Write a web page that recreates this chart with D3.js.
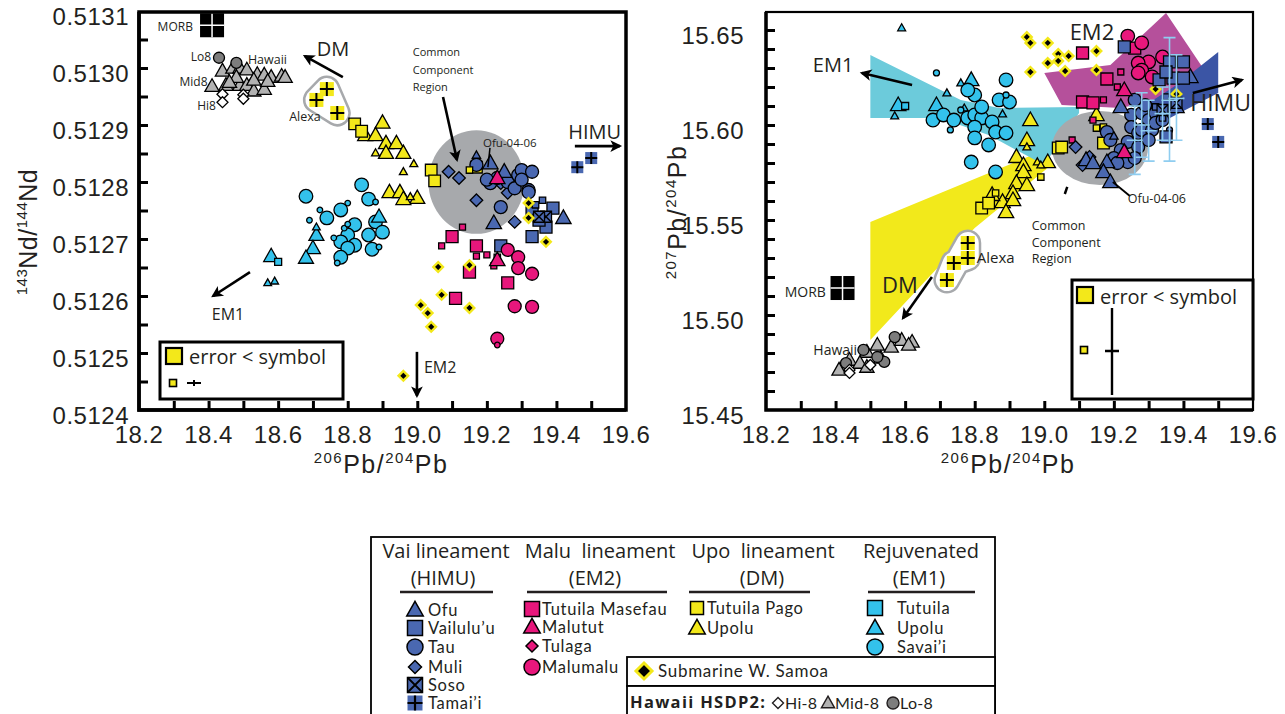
<!DOCTYPE html>
<html>
<head>
<meta charset="utf-8">
<script src="https://cdn.jsdelivr.net/npm/d3@7"></script>
<style>
  body { margin: 0; background: #fff; }
  .tl { font-family: "Liberation Sans", Arial, sans-serif; font-size: 24px; fill: #231f20; letter-spacing: 0.5px; }
  .ann { font-family: "Open Sans", sans-serif; fill: #231f20; }
  .leg { font-family: Lato, "Open Sans", sans-serif; fill: #231f20; letter-spacing: 0.7px; }
</style>
</head>
<body>
<svg id="fig" width="1285" height="714"></svg>
<script>
// ---------- 143Nd/144Nd vs 206Pb/204Pb (left) ----------
var ndHawaiiLo8 = [[18.43,0.513018],[18.48,0.513009]];
var ndHawaiiMid8 = [[18.44,0.512995],[18.47,0.513000],[18.49,0.513000],[18.51,0.512997],[18.54,0.512989],[18.56,0.512988],[18.58,0.512984],[18.61,0.512986],[18.62,0.512984],[18.41,0.512968],[18.45,0.512970],[18.49,0.512970],[18.51,0.512970],[18.53,0.512960],[18.56,0.512963],[18.48,0.512984],[18.46,0.512975],[18.53,0.512979],[18.57,0.512977]];
var ndHawaiiHi8 = [[18.44,0.512954],[18.44,0.512940],[18.50,0.512953],[18.50,0.512946]];
var ndMorb = [[18.41,0.513075]];
var ndAlexa = [[18.71,0.512944],[18.74,0.512963],[18.77,0.512921]];
var ndPago = [[18.82,0.512902],[18.84,0.512889],[19.04,0.512821],[19.05,0.512802],[19.17,0.512826]];
var ndPagoSmall = [[19.15,0.512821]];
var ndUpoluDM = [[18.90,0.512904],[18.85,0.512882],[18.88,0.512882],[18.91,0.512868],[18.94,0.512868],[18.91,0.512851],[18.96,0.512851],[18.92,0.512782],[18.95,0.512782],[19.00,0.512772],[18.96,0.512770]];
var ndUpoluDMSmall = [[18.88,0.512851],[18.99,0.512832],[18.96,0.512818],[18.98,0.512774]];
var ndSavaii = [[18.84,0.512795],[18.68,0.512775],[18.86,0.512770],[18.78,0.512751],[18.74,0.512737],[18.82,0.512725],[18.88,0.512730],[18.90,0.512712],[18.86,0.512707],[18.80,0.512707],[18.82,0.512689],[18.78,0.512695],[18.80,0.512684],[18.87,0.512682],[18.78,0.512668]];
var ndSavaiiSmall = [[18.88,0.512765],[18.80,0.512763],[18.72,0.512751],[18.69,0.512733],[18.79,0.512719],[18.89,0.512686],[18.76,0.512702],[18.80,0.512726],[18.77,0.512658]];
var ndUpoluEM1 = [[18.71,0.512707],[18.70,0.512684],[18.68,0.512667],[18.58,0.512670],[18.89,0.512739]];
var ndUpoluEM1Small = [[18.71,0.512721],[18.57,0.512623],[18.59,0.512626]];
var ndTutuilaEM1Small = [[18.60,0.512660]];
var ndOfu = [[19.21,0.512833],[19.25,0.512818],[19.22,0.512728],[19.42,0.512737]];
var ndOfuSmall = [[19.17,0.512847]];
var ndMuli = [[19.09,0.512818],[19.12,0.512807],[19.17,0.512768],[19.26,0.512781],[19.28,0.512730],[19.24,0.512798]];
var ndTau = [[19.17,0.512830],[19.21,0.512798],[19.23,0.512807],[19.26,0.512800],[19.29,0.512812],[19.30,0.512821],[19.33,0.512818],[19.32,0.512786],[19.28,0.512789],[19.24,0.512756],[19.20,0.512804],[19.30,0.512804],[19.32,0.512782]];
var ndVailulu = [[19.33,0.512746],[19.39,0.512754],[19.37,0.512721],[19.33,0.512704],[19.35,0.512733],[19.24,0.512688]];
var ndVailuluSmall = [[19.36,0.512768],[19.34,0.512760],[19.23,0.512668]];
var ndSoso = [[19.37,0.512739],[19.35,0.512739]];
var ndTamaii = [[19.46,0.512826],[19.50,0.512842]];
var ndMasefau = [[19.10,0.512704],[19.17,0.512688],[19.11,0.512596],[19.26,0.512623],[19.15,0.512642]];
var ndMasefauSmall = [[19.13,0.512721],[19.07,0.512688],[19.17,0.512670],[19.20,0.512672],[19.22,0.512653]];
var ndMalutut = [[19.23,0.512807],[19.23,0.512663]];
var ndMalumalu = [[19.26,0.512681],[19.29,0.512668],[19.29,0.512649],[19.33,0.512639],[19.28,0.512582],[19.33,0.512581],[19.23,0.512525]];
var ndMalumaluSmall = [[19.23,0.512514]];
var ndSubmarine = [[19.06,0.512651],[19.15,0.512654],[19.07,0.512602],[19.01,0.512584],[19.03,0.512570],[19.04,0.512546],[19.15,0.512579],[18.96,0.512460],[19.37,0.512695],[19.32,0.512763],[19.32,0.512737]];
var ndCommon = [19.17, 0.51280, 0.138, 0.000091];   // centre x, centre y, radius x, radius y

// ---------- 207Pb/204Pb vs 206Pb/204Pb (right) ----------
var pbHawaiiMid8 = [[18.41,15.4711],[18.44,15.4763],[18.49,15.4805],[18.52,15.4842],[18.56,15.4832],[18.59,15.4868],[18.62,15.4858],[18.47,15.4747],[18.49,15.4726],[18.53,15.4774],[18.61,15.4842]];
var pbHawaiiLo8 = [[18.43,15.4747],[18.48,15.4816],[18.57,15.4884],[18.54,15.4753],[18.52,15.4779]];
var pbHawaiiHi8 = [[18.44,15.4711],[18.50,15.4737],[18.44,15.4695]];
var pbMorb = [[18.42,15.5142]];
var pbAlexa = [[18.78,15.5379],[18.78,15.5300],[18.74,15.5274],[18.72,15.5184]];
var pbUpoluEM1 = [[18.58,15.6105],[18.69,15.6105],[18.79,15.6237]];
var pbUpoluEM1Small = [[18.59,15.6511],[18.57,15.6047],[18.76,15.6221],[18.72,15.6168],[18.77,15.6089],[18.88,15.6058]];
var pbTutuilaEM1Small = [[18.60,15.6100]];
var pbSavaii = [[18.68,15.6026],[18.71,15.6053],[18.74,15.6026],[18.78,15.6037],[18.80,15.6053],[18.82,15.6037],[18.80,15.5989],[18.82,15.6095],[18.80,15.6158],[18.78,15.6184],[18.85,15.6016],[18.87,15.6132],[18.90,15.6121],[18.89,15.6237],[18.86,15.5963],[18.89,15.5958],[18.84,15.5895],[18.80,15.5932],[18.79,15.5805],[18.86,15.5753]];
var pbSavaiiSmall = [[18.69,15.6274],[18.89,15.6158],[18.73,15.5974],[18.76,15.6079]];
var pbUpoluDM = [[18.96,15.6026],[18.95,15.5921],[18.92,15.5832],[18.94,15.5789],[18.94,15.5753],[18.92,15.5695],[18.95,15.5684],[18.91,15.5642],[18.88,15.5595],[18.91,15.5605],[18.85,15.5632],[18.89,15.5542],[19.01,15.5805],[19.15,15.6053]];
var pbUpoluDMSmall = [[18.95,15.5884],[18.98,15.5805],[18.99,15.5789]];
var pbPago = [[18.82,15.5563],[18.84,15.5589],[19.04,15.5879],[19.05,15.5884],[19.17,15.5905]];
var pbPagoSmall = [[18.99,15.5726],[18.86,15.5642],[19.15,15.5984],[19.17,15.5989]];
var pbSubmarine = [[18.95,15.6463],[18.96,15.6432],[19.01,15.6432],[19.04,15.6374],[19.07,15.6363],[19.04,15.6337],[19.01,15.6326],[18.96,15.6279],[19.06,15.6284],[19.15,15.6389],[19.15,15.6289],[19.32,15.6189],[19.38,15.6163]];
var pbMasefau = [[19.11,15.6379],[19.18,15.6242],[19.26,15.6405],[19.11,15.6121],[19.14,15.6116]];
var pbMasefauSmall = [[19.17,15.6132],[19.22,15.6279],[19.21,15.6200],[19.08,15.5921],[19.14,15.6026]];
var pbMalutut = [[19.23,15.6184],[19.23,15.5858]];
var pbMalumalu = [[19.24,15.6468],[19.28,15.6432],[19.34,15.6358],[19.30,15.6332],[19.27,15.6326],[19.28,15.6289],[19.27,15.6274],[19.31,15.6253]];
var pbOfu = [[19.22,15.6095],[19.42,15.6253],[19.18,15.5805],[19.17,15.5753],[19.19,15.5700],[19.12,15.5816],[19.14,15.5800],[19.38,15.6095]];
var pbOfuSmall = [[19.20,15.5942]];
var pbMuli = [[19.09,15.5884],[19.13,15.5832],[19.11,15.5789]];
var pbTau = [[19.25,15.6053],[19.28,15.6063],[19.30,15.6026],[19.32,15.6063],[19.25,15.5989],[19.27,15.5958],[19.28,15.5974],[19.31,15.5974],[19.24,15.5911],[19.27,15.5884],[19.22,15.5868],[19.20,15.5826],[19.18,15.5963],[19.19,15.5921],[19.32,15.6011],[19.34,15.6026],[19.30,15.5921],[19.24,15.5805],[19.29,15.6105],[19.26,15.6132],[19.21,15.5800],[19.26,15.5826]];
var pbTauSmall = [[19.36,15.5974]];
var pbVailulu = [[19.23,15.6411],[19.36,15.6332],[19.40,15.6332],[19.37,15.6247],[19.40,15.6247],[19.33,15.6237],[19.35,15.5937],[19.35,15.6279]];
var pbVailuluSmall = [[19.34,15.6037],[19.35,15.6147],[19.32,15.6095]];
var pbSoso = [[19.34,15.6079],[19.38,15.6116]];
var pbTamaii = [[19.47,15.6005],[19.50,15.5911]];
// x, y, y low, y high
var pbErrorBars = [[19.36,15.613,15.581,15.646],[19.38,15.614,15.592,15.637],[19.34,15.606,15.592,15.620],[19.28,15.600,15.583,15.617],[19.26,15.592,15.574,15.610],[19.30,15.597,15.581,15.613]];
var pbRegionDM = [[18.50,15.5489],[19.00,15.5868],[19.02,15.5789],[18.80,15.5458],[18.50,15.4868]];
var pbRegionEM1 = [[18.50,15.6368],[18.76,15.6132],[18.87,15.6089],[19.10,15.6095],[19.10,15.6063],[19.00,15.5789],[18.84,15.5947],[18.70,15.6037],[18.50,15.6037]];
var pbRegionEM2 = [[19.00,15.6274],[19.19,15.6316],[19.35,15.6589],[19.46,15.6289],[19.39,15.6158],[19.22,15.6089],[19.05,15.6105]];
var pbRegionHIMU = [[19.26,15.6068],[19.38,15.6211],[19.50,15.6384],[19.50,15.6168],[19.35,15.6026]];
var pbCommon = [19.16, 15.5879, 0.138, 0.0195];

// axis ticks
var xLabels = [18.2,18.4,18.6,18.8,19.0,19.2,19.4,19.6];
var ndLabels = [0.5124,0.5125,0.5126,0.5127,0.5128,0.5129,0.5130,0.5131];
var pbLabels = [15.45,15.50,15.55,15.60,15.65];

var BLUE = "#4a68b1", PINK = "#e8177c", YEL = "#f3e81a", CYAN = "#33c2ec";

var svg = d3.select("#fig");
svg.append("defs").append("marker").attr("id", "arr")
  .attr("viewBox", "0 0 10 10").attr("refX", 8).attr("refY", 5)
  .attr("markerWidth", 5).attr("markerHeight", 4.5).attr("orient", "auto")
  .append("path").attr("d", "M0,0L10,5L0,10L2.5,5Z").attr("fill", "#000");

function sym(shape, r) {
  if (shape == "circle") return d3.symbol(d3.symbolCircle, Math.PI * r * r)();
  if (shape == "triangle") return "M0," + (-r * 1.15) + "L" + (r * 1.1) + "," + (r * 0.8) + "L" + (-r * 1.1) + "," + (r * 0.8) + "Z";
  if (shape == "diamond") return "M0," + (-r) + "L" + r + ",0L0," + r + "L" + (-r) + ",0Z";
  return "M" + (-r) + "," + (-r) + "h" + (2 * r) + "v" + (2 * r) + "h" + (-2 * r) + "Z";
}

function marks(g, data, x, y, shape, r, fill, opt) {
  opt = opt || {};
  var sel = g.append("g").selectAll("g").data(data).join("g")
    .attr("transform", function (d) { return "translate(" + x(d[0]) + "," + y(d[1]) + ")"; });
  sel.append("path").attr("d", sym(shape, r)).attr("fill", fill)
    .attr("stroke", opt.stroke || "#000").attr("stroke-width", opt.sw == null ? 1.3 : opt.sw);
  if (shape == "cross")
    sel.append("path").attr("d", "M" + (-r) + ",0h" + (2 * r) + "M0," + (-r) + "v" + (2 * r)).attr("stroke", "#000").attr("stroke-width", 2);
  if (shape == "xbox")
    sel.append("path").attr("d", "M" + (-r) + "," + (-r) + "L" + r + "," + r + "M" + r + "," + (-r) + "L" + (-r) + "," + r).attr("stroke", "#000").attr("stroke-width", 1.5);
  return sel;
}

function morb(g, data, x, y) {
  var s = g.append("g").selectAll("g").data(data).join("g")
    .attr("transform", function (d) { return "translate(" + x(d[0]) + "," + y(d[1]) + ")"; });
  s.append("rect").attr("x", -12).attr("y", -12).attr("width", 24).attr("height", 24).attr("fill", "#000");
  s.append("path").attr("d", "M-12,0h24M0,-12v24").attr("stroke", "#fff").attr("stroke-width", 1.5);
}

function blob(g, data, x, y) {
  var d = "M" + data.map(function (p) { return x(p[0]) + "," + y(p[1]); }).join("L") + "Z";
  g.append("path").attr("d", d).attr("fill", "#fff").attr("stroke", "#a7a9ac").attr("stroke-width", 27).attr("stroke-linejoin", "round");
  g.append("path").attr("d", d).attr("fill", "#fff").attr("stroke", "#fff").attr("stroke-width", 22).attr("stroke-linejoin", "round");
}

function arrow(g, x, y, a) {
  g.append("line").attr("x1", x(a[0])).attr("y1", y(a[1])).attr("x2", x(a[2])).attr("y2", y(a[3]))
    .attr("stroke", "#000").attr("stroke-width", 2.6).attr("marker-end", "url(#arr)");
}

function label(g, x, y, t, px, py, size, anchor) {
  g.append("text").attr("class", "ann").attr("x", x(px)).attr("y", y(py)).attr("dy", "0.35em")
    .attr("font-size", size).attr("text-anchor", anchor || "start").text(t);
}

function supText(g, cx, cy, rot, parts, spacing) {
  var t = g.append("text").attr("class", "tl").attr("text-anchor", "middle")
    .attr("transform", "translate(" + cx + "," + cy + ")" + (rot ? " rotate(-90)" : ""))
    .style("letter-spacing", spacing + "px");
  var up = false;
  parts.forEach(function (p) {
    var sup = p.charAt(0) >= "0" && p.charAt(0) <= "9";
    var ts = t.append("tspan").text(p).attr("font-size", sup ? 15 : 25);
    if (sup && !up) { ts.attr("dy", -10); up = true; }
    else if (!sup && up) { ts.attr("dy", 10); up = false; }
  });
}

function frame(x, y, o) {
  var g = svg.append("g");
  var xt = d3.range(18.3, 19.55, 0.1);
  g.append("g").attr("transform", "translate(0," + o.bottom + ")")
    .call(d3.axisBottom(x).tickValues(xt).tickSize(-9).tickFormat(""))
    .call(function (a) { a.select(".domain").remove(); a.selectAll("line").attr("stroke", "#000").attr("stroke-width", 3); });
  g.append("g").attr("transform", "translate(" + o.left + ",0)")
    .call(d3.axisLeft(y).tickValues(o.yMinor).tickSize(-9).tickFormat(""))
    .call(function (a) { a.select(".domain").remove(); a.selectAll("line").attr("stroke", "#000").attr("stroke-width", 3); });
  g.append("rect").attr("x", o.left).attr("y", o.top).attr("width", o.right - o.left).attr("height", o.bottom - o.top)
    .attr("fill", "none").attr("stroke", "#000").attr("stroke-width", o.fw);
  g.append("path").attr("d", "M" + o.left + "," + o.top + "V" + o.bottom + "H" + o.right)
    .attr("fill", "none").attr("stroke", "#000").attr("stroke-width", 3.5);
  g.selectAll(".xl").data(xLabels).join("text").attr("class", "tl").attr("text-anchor", "middle")
    .attr("x", function (d) { return x(d); }).attr("y", o.bottom + 33).text(function (d) { return d.toFixed(1); });
  g.selectAll(".yl").data(o.yLabels).join("text").attr("class", "tl").attr("text-anchor", "end")
    .attr("x", o.left - o.yOff).attr("y", function (d) { return y(d) + 14; }).text(function (d) { return d.toFixed(o.dec); });
  return g;
}

// ================= left panel =================
(function () {
  var o = { left: 139, right: 626, top: 12, bottom: 410, fw: 3.5, yOff: 10, dec: 4, yLabels: ndLabels,
    yMinor: d3.range(0.51245, 0.51306, 0.00005) };
  var x = d3.scaleLinear().domain([18.2, 19.6]).range([o.left, o.right]);
  var y = d3.scaleLinear().domain([0.5124, 0.5131]).range([o.bottom, 11]);
  var g = svg.append("g");

  g.append("ellipse").attr("cx", x(ndCommon[0])).attr("cy", y(ndCommon[1]))
    .attr("rx", x(ndCommon[0] + ndCommon[2]) - x(ndCommon[0])).attr("ry", y(ndCommon[1]) - y(ndCommon[1] + ndCommon[3]))
    .attr("fill", "#a7a9ac");

  marks(g, ndHawaiiMid8, x, y, "triangle", 6.5, "#b2b2b2");
  marks(g, ndHawaiiLo8, x, y, "circle", 5.5, "#7d7d7d");
  marks(g, ndHawaiiHi8, x, y, "diamond", 5.5, "#fff");
  morb(g, ndMorb, x, y);
  blob(g, ndAlexa, x, y);
  marks(g, ndAlexa, x, y, "cross", 7, YEL, { sw: 0 });

  marks(g, ndSavaii, x, y, "circle", 6.8, CYAN);
  marks(g, ndSavaiiSmall, x, y, "circle", 2.8, CYAN);
  marks(g, ndUpoluEM1, x, y, "triangle", 6.8, CYAN);
  marks(g, ndUpoluEM1Small, x, y, "triangle", 3.5, CYAN);
  marks(g, ndTutuilaEM1Small, x, y, "square", 3.5, CYAN);

  marks(g, ndUpoluDM, x, y, "triangle", 6.8, YEL);
  marks(g, ndUpoluDMSmall, x, y, "triangle", 3.6, YEL);
  marks(g, ndPago, x, y, "square", 5.8, YEL);

  marks(g, ndMuli, x, y, "diamond", 6.3, BLUE);
  marks(g, ndTau, x, y, "circle", 6.5, BLUE);
  marks(g, ndOfu, x, y, "triangle", 7, BLUE);
  marks(g, ndOfuSmall, x, y, "triangle", 3.8, BLUE);
  marks(g, ndVailulu, x, y, "square", 6, BLUE);
  marks(g, ndVailuluSmall, x, y, "square", 3.2, BLUE);
  marks(g, ndSoso, x, y, "xbox", 5.5, BLUE);
  marks(g, ndTamaii, x, y, "cross", 6, BLUE, { sw: 0 });
  marks(g, ndPagoSmall, x, y, "square", 3.2, YEL);

  marks(g, ndMasefau, x, y, "square", 6, PINK);
  marks(g, ndMasefauSmall, x, y, "square", 3, PINK);
  marks(g, ndMalumalu, x, y, "circle", 6.5, PINK);
  marks(g, ndMalumaluSmall, x, y, "circle", 2.8, PINK);
  marks(g, ndMalutut, x, y, "triangle", 7, PINK);
  marks(g, ndSubmarine, x, y, "diamond", 4.8, "#000", { stroke: YEL, sw: 2.4 });

  // annotations
  arrow(g, x, y, [18.786, 0.512984, 18.677, 0.513021]);
  arrow(g, x, y, [19.453, 0.512863, 19.582, 0.512863]);
  arrow(g, x, y, [18.519, 0.512642, 18.413, 0.512600]);
  arrow(g, x, y, [18.999, 0.512502, 18.999, 0.512425]);
  arrow(g, x, y, [19.074, 0.512949, 19.114, 0.512839]);
  g.append("line").attr("x1", x(19.209)).attr("y1", y(0.51286)).attr("x2", x(19.203)).attr("y2", y(0.512826))
    .attr("stroke", "#000").attr("stroke-width", 1.5);
  label(g, x, y, "MORB", 18.355, 0.513072, 12, "end");
  label(g, x, y, "Lo8", 18.407, 0.513020, 12, "end");
  label(g, x, y, "Hawaii", 18.513, 0.513014, 12.5);
  label(g, x, y, "Mid8", 18.397, 0.512975, 12, "end");
  label(g, x, y, "Hi8", 18.421, 0.512933, 12, "end");
  label(g, x, y, "Alexa", 18.677, 0.512914, 12.5, "middle");
  label(g, x, y, "DM", 18.711, 0.513034, 20);
  label(g, x, y, "HIMU", 19.510, 0.512888, 20, "middle");
  label(g, x, y, "EM1", 18.456, 0.512567, 16, "middle");
  label(g, x, y, "EM2", 19.019, 0.512475, 16);
  label(g, x, y, "Common", 18.987, 0.513028, 11);
  label(g, x, y, "Component", 18.987, 0.512997, 11);
  label(g, x, y, "Region", 18.987, 0.512967, 11);
  label(g, x, y, "Ofu-04-06", 19.189, 0.512869, 11.5);

  frame(x, y, o);

  // error legend box
  var e = svg.append("g");
  e.append("rect").attr("x", 160).attr("y", 342).attr("width", 183).attr("height", 57).attr("fill", "#fff").attr("stroke", "#000").attr("stroke-width", 3);
  e.append("rect").attr("x", 166).attr("y", 348).attr("width", 16).attr("height", 16).attr("fill", YEL).attr("stroke", "#000").attr("stroke-width", 2.2);
  e.append("text").attr("class", "ann").attr("x", 189).attr("y", 364).attr("font-size", 20).text("error < symbol");
  e.append("rect").attr("x", 169.5).attr("y", 379.5).attr("width", 7).attr("height", 7).attr("fill", YEL).attr("stroke", "#000").attr("stroke-width", 1.6);
  e.append("path").attr("d", "M187,383h14M194,380v6").attr("stroke", "#000").attr("stroke-width", 2);

  supText(svg, 381, 473, false, ["206", "Pb/", "204", "Pb"], 1.5);
  supText(svg, 37, 232, true, ["143", "Nd/", "144", "Nd"], 0.5);
})();

// ================= right panel =================
(function () {
  var o = { left: 766, right: 1253, top: 12, bottom: 410, fw: 2.2, yOff: 22, dec: 2, yLabels: pbLabels,
    yMinor: d3.range(15.46, 15.655, 0.01) };
  var x = d3.scaleLinear().domain([18.2, 19.6]).range([o.left, o.right]);
  var y = d3.scaleLinear().domain([15.45, 15.65]).range([o.bottom, 30]);
  var g = svg.append("g");
  var poly = function (d) { return "M" + d.map(function (p) { return x(p[0]) + "," + y(p[1]); }).join("L") + "Z"; };

  g.append("path").attr("d", poly(pbRegionDM)).attr("fill", "#f2e91b");
  g.append("path").attr("d", poly(pbRegionEM1)).attr("fill", "#6ccbdb");
  g.append("path").attr("d", poly(pbRegionEM2)).attr("fill", "#b5509b");
  g.append("path").attr("d", poly(pbRegionHIMU)).attr("fill", "#3b55a5");
  g.append("ellipse").attr("cx", x(pbCommon[0])).attr("cy", y(pbCommon[1]))
    .attr("rx", x(pbCommon[0] + pbCommon[2]) - x(pbCommon[0])).attr("ry", y(pbCommon[1]) - y(pbCommon[1] + pbCommon[3]))
    .attr("fill", "#a7a9ac");

  marks(g, pbHawaiiMid8, x, y, "triangle", 6.5, "#b2b2b2");
  marks(g, pbHawaiiLo8, x, y, "circle", 5.5, "#7d7d7d");
  marks(g, pbHawaiiHi8, x, y, "diamond", 5.5, "#fff");
  morb(g, pbMorb, x, y);
  blob(g, pbAlexa, x, y);
  marks(g, pbAlexa, x, y, "cross", 7, YEL, { sw: 0 });

  marks(g, pbSubmarine, x, y, "diamond", 4.8, "#000", { stroke: YEL, sw: 2.4 });
  marks(g, pbUpoluEM1, x, y, "triangle", 7, CYAN);
  marks(g, pbUpoluEM1Small, x, y, "triangle", 3.6, CYAN);
  marks(g, pbTutuilaEM1Small, x, y, "square", 3.5, CYAN);
  marks(g, pbSavaii, x, y, "circle", 6.8, CYAN);
  marks(g, pbSavaiiSmall, x, y, "circle", 3, CYAN);

  marks(g, pbUpoluDM, x, y, "triangle", 7, YEL);
  marks(g, pbUpoluDMSmall, x, y, "triangle", 3.6, YEL);
  marks(g, pbPago, x, y, "square", 5.8, YEL);
  marks(g, pbPagoSmall, x, y, "square", 3.2, YEL);

  marks(g, pbMasefau, x, y, "square", 6, PINK);
  marks(g, pbMasefauSmall, x, y, "square", 3, PINK);
  marks(g, pbMalumalu, x, y, "circle", 6.8, PINK);

  marks(g, pbMuli, x, y, "diamond", 6.3, BLUE);
  marks(g, pbTau, x, y, "circle", 6.5, BLUE);
  marks(g, pbTauSmall, x, y, "circle", 3, BLUE);
  marks(g, pbOfu, x, y, "triangle", 7, BLUE);
  marks(g, pbOfuSmall, x, y, "triangle", 3.8, BLUE);
  marks(g, pbVailulu, x, y, "square", 6, BLUE);
  marks(g, pbVailuluSmall, x, y, "square", 3.2, BLUE);
  marks(g, pbSoso, x, y, "xbox", 5.5, BLUE);
  marks(g, pbTamaii, x, y, "cross", 6, BLUE, { sw: 0 });
  marks(g, pbMalutut, x, y, "triangle", 7, PINK);

  // error bars
  var eb = g.append("g").attr("stroke", "#8fcdf0").attr("stroke-width", 1.6).attr("fill", "none");
  pbErrorBars.forEach(function (d) {
    var cx = x(d[0]);
    eb.append("path").attr("d", "M" + cx + "," + y(d[2]) + "V" + y(d[3]) +
      "M" + (cx - 6) + "," + y(d[2]) + "h12M" + (cx - 6) + "," + y(d[3]) + "h12M" + (cx - 8) + "," + y(d[1]) + "h16");
  });

  // annotations
  arrow(g, x, y, [18.620, 15.6211, 18.476, 15.6274]);
  arrow(g, x, y, [19.427, 15.6168, 19.568, 15.6237]);
  arrow(g, x, y, [18.677, 15.5200, 18.594, 15.4984]);
  g.append("line").attr("x1", x(19.197)).attr("y1", y(15.570)).attr("x2", x(19.246)).attr("y2", y(15.5626))
    .attr("stroke", "#000").attr("stroke-width", 1.8);
  g.append("line").attr("x1", x(19.059)).attr("y1", y(15.5637)).attr("x2", x(19.066)).attr("y2", y(15.5674))
    .attr("stroke", "#000").attr("stroke-width", 2.5);
  label(g, x, y, "MORB", 18.372, 15.5121, 14, "end");
  label(g, x, y, "Hawaii", 18.462, 15.4816, 14, "end");
  label(g, x, y, "EM1", 18.393, 15.6316, 20, "middle");
  label(g, x, y, "EM2", 19.137, 15.6489, 22, "middle");
  label(g, x, y, "HIMU", 19.507, 15.6116, 23, "middle");
  label(g, x, y, "DM", 18.585, 15.5158, 22, "middle");
  label(g, x, y, "Alexa", 18.806, 15.5300, 15);
  label(g, x, y, "Ofu-04-06", 19.240, 15.5611, 12.5);
  label(g, x, y, "Common", 18.964, 15.5468, 12.5);
  label(g, x, y, "Component", 18.964, 15.5379, 12.5);
  label(g, x, y, "Region", 18.964, 15.5295, 12.5);

  frame(x, y, o);

  var e = svg.append("g");
  e.append("rect").attr("x", 1072).attr("y", 280).attr("width", 181).attr("height", 119).attr("fill", "#fff").attr("stroke", "#000").attr("stroke-width", 3);
  e.append("rect").attr("x", 1077).attr("y", 287).attr("width", 16).attr("height", 16).attr("fill", YEL).attr("stroke", "#000").attr("stroke-width", 2.2);
  e.append("text").attr("class", "ann").attr("x", 1100).attr("y", 304).attr("font-size", 20).text("error < symbol");
  e.append("rect").attr("x", 1080.5).attr("y", 346.5).attr("width", 7).attr("height", 7).attr("fill", YEL).attr("stroke", "#000").attr("stroke-width", 1.6);
  e.append("path").attr("d", "M1112,308V395M1105,351h14").attr("stroke", "#000").attr("stroke-width", 2.4);

  supText(svg, 1008, 473, false, ["206", "Pb/", "204", "Pb"], 1.5);
  supText(svg, 686, 212, true, ["207", "Pb/", "204", "Pb"], 1.5);
})();

// ================= legend =================
var legendCols = [
  { title: "Vai lineament", sub: "(HIMU)", cx: 446, scx: 443, line: [400, 493], sx: 415, tx: 428,
    items: [["triangle", BLUE, "Ofu", 610], ["square", BLUE, "Vailulu’u", 628], ["circle", BLUE, "Tau", 647],
            ["diamond", BLUE, "Muli", 667], ["xbox", BLUE, "Soso", 685], ["cross", BLUE, "Tamai’i", 703]] },
  { title: "Malu  lineament", sub: "(EM2)", cx: 600, scx: 595, line: [527, 667], sx: 532, tx: 542,
    items: [["square", PINK, "Tutuila Masefau", 609], ["triangle", PINK, "Malutut", 627],
            ["diamond", PINK, "Tulaga", 646], ["circle", PINK, "Malumalu", 667]] },
  { title: "Upo  lineament", sub: "(DM)", cx: 763, scx: 762, line: [689, 810], sx: 697, tx: 707,
    items: [["square", YEL, "Tutuila Pago", 608], ["triangle", YEL, "Upolu", 628]] },
  { title: "Rejuvenated", sub: "(EM1)", cx: 921, scx: 919, line: [868, 975], sx: 875, tx: 897,
    items: [["square", CYAN, "Tutuila", 608], ["triangle", CYAN, "Upolu", 628], ["circle", CYAN, "Savai’i", 647]] }
];
var hawaiiKey = [["diamond", "#fff", "Hi-8", 778], ["triangle", "#b2b2b2", "Mid-8", 828], ["circle", "#7d7d7d", "Lo-8", 893]];

(function () {
  var L = svg.append("g");
  L.append("rect").attr("x", 371).attr("y", 537).attr("width", 624).attr("height", 200).attr("fill", "#fff").attr("stroke", "#000").attr("stroke-width", 1.8);
  var size = { triangle: 7.5, square: 7.5, circle: 8, diamond: 6.5, xbox: 7.5, cross: 7.5 };
  legendCols.forEach(function (c) {
    L.append("text").attr("class", "ann").attr("x", c.cx).attr("y", 558).attr("text-anchor", "middle").attr("font-size", 20).style("white-space", "pre").text(c.title);
    L.append("text").attr("class", "ann").attr("x", c.scx).attr("y", 585).attr("text-anchor", "middle").attr("font-size", 20).text(c.sub);
    L.append("line").attr("x1", c.line[0]).attr("x2", c.line[1]).attr("y1", 592).attr("y2", 592).attr("stroke", "#231f20").attr("stroke-width", 2.5);
    c.items.forEach(function (it) {
      var gi = L.append("g").attr("transform", "translate(" + c.sx + "," + it[3] + ")");
      var r = size[it[0]];
      if (c.title.indexOf("Upo") == 0 && it[0] == "square") r = 6.5;
      if (c.title.indexOf("Malu") == 0 && it[0] == "diamond") r = 6;
      gi.append("path").attr("d", sym(it[0], r)).attr("fill", it[1]).attr("stroke", "#000").attr("stroke-width", it[0] == "cross" ? 0 : 1.5);
      if (it[0] == "cross") gi.append("path").attr("d", "M" + (-r) + ",0h" + (2 * r) + "M0," + (-r) + "v" + (2 * r)).attr("stroke", "#000").attr("stroke-width", 2.2);
      if (it[0] == "xbox") gi.append("path").attr("d", "M" + (-r) + "," + (-r) + "L" + r + "," + r + "M" + r + "," + (-r) + "L" + (-r) + "," + r).attr("stroke", "#000").attr("stroke-width", 1.8);
      L.append("text").attr("class", "leg").attr("x", c.tx).attr("y", it[3] + 6).attr("font-size", 16.5).text(it[2]);
    });
  });
  L.append("rect").attr("x", 627).attr("y", 657).attr("width", 368).attr("height", 29).attr("fill", "#fff").attr("stroke", "#000").attr("stroke-width", 1.8);
  L.append("rect").attr("x", 627).attr("y", 686).attr("width", 368).attr("height", 40).attr("fill", "#fff").attr("stroke", "#000").attr("stroke-width", 1.8);
  L.append("path").attr("d", sym("diamond", 8)).attr("transform", "translate(644,671)").attr("fill", "#000").attr("stroke", YEL).attr("stroke-width", 3);
  L.append("text").attr("class", "leg").attr("x", 658).attr("y", 677).attr("font-size", 17).text("Submarine W. Samoa");
  L.append("text").attr("class", "ann").attr("x", 630).attr("y", 708).attr("font-size", 16.5).attr("font-weight", "bold")
    .style("letter-spacing", "1.3px").text("Hawaii HSDP2:");
  hawaiiKey.forEach(function (k) {
    L.append("path").attr("d", sym(k[0], k[0] == "diamond" ? 5.5 : 6)).attr("transform", "translate(" + k[3] + ",703)")
      .attr("fill", k[1]).attr("stroke", "#231f20").attr("stroke-width", 1.4);
    L.append("text").attr("class", "leg").attr("x", k[3] + 7).attr("y", 708.5).attr("font-size", 16).style("letter-spacing", "0.3px").text(k[2]);
  });
})();
</script>
</body>
</html>
